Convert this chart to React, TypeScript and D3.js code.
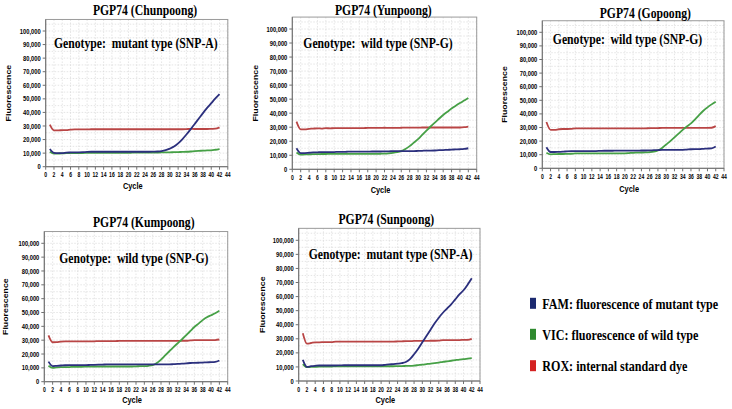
import React, { useEffect, useRef } from "react";
import * as d3 from "d3";

// cycle numbers (x categories)
const CYCLES = Array.from({ length: 42 }, (_, i) => i + 1);
const X_TICKS = d3.range(0, 45, 2);
const Y_TICKS = d3.range(0, 100001, 10000);

// PGP74 (Chunpoong)
const ROX_CHUNPOONG = [
  31000, 26800, 26800, 26900, 27000, 27300, 27500, 27500, 27500, 27500,
  27600, 27600, 27600, 27600, 27600, 27600, 27600, 27600, 27600, 27600,
  27600, 27600, 27600, 27600, 27600, 27600, 27600, 27600, 27600, 27600,
  27600, 27600, 27600, 27700, 27900, 27800, 27800, 27800, 27800, 27900,
  28000, 29000,
];
const FAM_CHUNPOONG = [
  13000, 10200, 10000, 10000, 10400, 10500, 10600, 10600, 10700, 10900,
  11000, 11000, 11000, 11000, 11000, 11000, 11000, 11000, 11000, 11000,
  11000, 11000, 11000, 11000, 11000, 11100, 11200, 11500, 12200, 13300,
  14800, 17200, 20200, 23700, 27500, 31500, 35500, 39500, 43300, 46800,
  50300, 53500,
];
const VIC_CHUNPOONG = [
  11000, 9600, 9700, 9800, 10000, 10000, 10000, 10100, 10100, 10200,
  10200, 10200, 10200, 10200, 10200, 10200, 10200, 10200, 10200, 10200,
  10300, 10300, 10300, 10300, 10300, 10300, 10400, 10500, 10500, 10600,
  10700, 10800, 10900, 11000, 11200, 11500, 11700, 11800, 12000, 12100,
  12500, 13000,
];

// PGP74 (Yunpoong)
const ROX_YUNPOONG = [
  34000, 28500, 28500, 28800, 29000, 29200, 29000, 29300, 29200, 29300,
  29300, 29300, 29400, 29400, 29400, 29400, 29400, 29500, 29500, 29500,
  29500, 29600, 29500, 29500, 29500, 29600, 29700, 29700, 29700, 29700,
  29800, 29800, 29800, 29800, 29800, 29800, 29800, 29800, 29800, 29800,
  30000, 30500,
];
const FAM_YUNPOONG = [
  15000, 11500, 11600, 11800, 12000, 12100, 12200, 12200, 12300, 12300,
  12400, 12400, 12500, 12600, 12600, 12600, 12600, 12600, 12700, 12700,
  12700, 12800, 12800, 12900, 12900, 13000, 13000, 13000, 13000, 13100,
  13200, 13300, 13300, 13400, 13600, 13700, 13900, 14000, 14200, 14300,
  14500, 15000,
];
const VIC_YUNPOONG = [
  12000, 10500, 10600, 10700, 10800, 10800, 10900, 10900, 11000, 11000,
  11000, 11000, 11000, 11000, 11000, 11000, 11000, 11000, 11000, 11000,
  11100, 11200, 11400, 11700, 12200, 13000, 14500, 16500, 19000, 21500,
  24500, 27500, 30500, 33300, 36000, 38700, 41000, 43300, 45300, 47200,
  49000, 50800,
];

// PGP74 (Gopoong)
const ROX_GOPOONG = [
  34000, 28300, 28300, 28700, 28900, 28900, 29000, 29300, 29300, 29300,
  29300, 29300, 29300, 29300, 29300, 29300, 29300, 29300, 29300, 29300,
  29300, 29300, 29400, 29400, 29400, 29500, 29500, 29600, 29700, 29700,
  29700, 29700, 29700, 29700, 29700, 29700, 29700, 29700, 29700, 29700,
  29800, 31000,
];
const FAM_GOPOONG = [
  15500, 12000, 12000, 12100, 12200, 12500, 12600, 12600, 12600, 12600,
  12700, 12700, 12700, 12800, 12900, 12900, 12900, 13000, 13000, 13000,
  13000, 13000, 13000, 13100, 13100, 13200, 13300, 13400, 13500, 13500,
  13500, 13500, 13500, 13600, 13800, 14000, 14100, 14100, 14300, 14500,
  14700, 16000,
];
const VIC_GOPOONG = [
  11500, 10300, 10400, 10500, 10500, 10600, 10700, 10900, 11000, 11000,
  11000, 11000, 11000, 11000, 11000, 11000, 11000, 11000, 11000, 11000,
  11200, 11400, 11500, 11600, 11700, 11900, 12300, 13200, 15000, 17500,
  20000, 22700, 25500, 28300, 30800, 33000, 36000, 39300, 42300, 44800,
  47000, 49000,
];

// PGP74 (Kumpoong)
const ROX_KUMPOONG = [
  33500, 28500, 28600, 29000, 29100, 29100, 29100, 29200, 29200, 29200,
  29200, 29200, 29300, 29300, 29300, 29300, 29300, 29500, 29500, 29500,
  29500, 29500, 29500, 29500, 29500, 29500, 29500, 29500, 29500, 29500,
  29500, 29500, 29600, 29600, 29800, 30000, 30000, 30000, 30000, 30000,
  30100, 30500,
];
const FAM_KUMPOONG = [
  14500, 11300, 11500, 11700, 11900, 12000, 12000, 12000, 12000, 12000,
  12100, 12200, 12300, 12400, 12500, 12500, 12500, 12500, 12500, 12500,
  12500, 12500, 12500, 12500, 12500, 12500, 12500, 12500, 12500, 12500,
  12700, 12900, 13000, 13200, 13500, 13600, 13700, 13800, 14000, 14100,
  14300, 15300,
];
const VIC_KUMPOONG = [
  11500, 10000, 10300, 10500, 10500, 10600, 10700, 10800, 10800, 10900,
  11000, 11000, 11000, 11000, 11000, 11000, 11000, 11000, 11000, 11000,
  11000, 11100, 11200, 11300, 11500, 12000, 13500, 16000, 19000, 22000,
  25000, 27800, 30500, 33500, 36500, 39500, 42000, 44500, 46500, 48000,
  49500, 51200,
];

// PGP74 (Sunpoong)
const ROX_SUNPOONG = [
  34000, 26500, 27000, 27500, 27500, 27600, 27700, 27700, 28000, 28000,
  28000, 28000, 28000, 28000, 28000, 28000, 28000, 28000, 28000, 28000,
  28000, 28000, 28000, 28100, 28200, 28300, 28300, 28500, 28500, 28500,
  28500, 28600, 28600, 28700, 29000, 29000, 29000, 29100, 29100, 29200,
  29300, 30000,
];
const FAM_SUNPOONG = [
  15000, 10000, 10500, 10800, 11000, 11000, 11000, 11000, 11000, 11100,
  11200, 11200, 11200, 11200, 11200, 11200, 11200, 11200, 11200, 11200,
  11500, 11800, 12000, 12300, 12700, 13500, 15500, 19000, 23000, 27500,
  32000, 36500, 41000, 45000, 48500, 51500, 54500, 58000, 61500, 64500,
  68500, 73000,
];
const VIC_SUNPOONG = [
  12000, 9800, 10000, 10100, 10200, 10200, 10300, 10300, 10400, 10400,
  10500, 10500, 10500, 10500, 10500, 10500, 10500, 10500, 10500, 10500,
  10500, 10500, 10500, 10600, 10600, 10700, 10800, 11000, 11300, 11600,
  12000, 12400, 12700, 13100, 13600, 14000, 14400, 14800, 15200, 15500,
  15900, 16300,
];

const PANELS = [
  { name: "PGP74 (Chunpoong)", genotype: "Genotype:  mutant type (SNP-A)", rox: ROX_CHUNPOONG, fam: FAM_CHUNPOONG, vic: VIC_CHUNPOONG },
  { name: "PGP74 (Yunpoong)", genotype: "Genotype:  wild type (SNP-G)", rox: ROX_YUNPOONG, fam: FAM_YUNPOONG, vic: VIC_YUNPOONG },
  { name: "PGP74 (Gopoong)", genotype: "Genotype:  wild type (SNP-G)", rox: ROX_GOPOONG, fam: FAM_GOPOONG, vic: VIC_GOPOONG },
  { name: "PGP74 (Kumpoong)", genotype: "Genotype:  wild type (SNP-G)", rox: ROX_KUMPOONG, fam: FAM_KUMPOONG, vic: VIC_KUMPOONG },
  { name: "PGP74 (Sunpoong)", genotype: "Genotype:  mutant type (SNP-A)", rox: ROX_SUNPOONG, fam: FAM_SUNPOONG, vic: VIC_SUNPOONG },
];

const LEGEND_LABELS = [
  "FAM: fluorescence of mutant type",
  "VIC: fluorescence of wild type",
  "ROX: internal standard dye",
];

// where each panel sits in the picture (pixel frame, not data)
const LAYOUT = [
  { x0: 45.7, x44: 227.8, y0: 166.7, y100: 31, titleX: 145, titleY: 10, genoX: 135.8, genoY: 42.7, fluoX: 9, cycleY: 186 },
  { x0: 292.3, x44: 476.7, y0: 169.3, y100: 29, titleX: 383.3, titleY: 10, genoX: 378, genoY: 42.7, fluoX: 255.7, cycleY: 190 },
  { x0: 542.3, x44: 724, y0: 168.3, y100: 32.3, titleX: 645.3, titleY: 12.7, genoX: 627.5, genoY: 38.3, fluoX: 504.3, cycleY: 188.3 },
  { x0: 44.3, x44: 227.7, y0: 381.7, y100: 243.3, titleX: 143.8, titleY: 221.7, genoX: 133.8, genoY: 257.3, fluoX: 6, cycleY: 400 },
  { x0: 298.7, x44: 480, y0: 381, y100: 240.3, titleX: 386.3, titleY: 219, genoX: 390.5, genoY: 253.3, fluoX: 262.3, cycleY: 400 },
];

const LINE_COLORS = { fam: "#2b2f7d", vic: "#46a046", rox: "#b94545" };
const LEGEND_COLORS = ["#1c2a70", "#2f8a2f", "#d42222"];
const SQUISH = 0.78; // the source figure is horizontally compressed
const SANS = "'Liberation Sans', Arial, sans-serif";
const SERIF = "'Liberation Serif', 'Times New Roman', serif";

const App = () => {
  const svgRef = useRef<SVGSVGElement>(null);

  useEffect(() => {
    const svg = d3.select(svgRef.current);
    svg.selectAll("*").remove();

    const addText = (g, x, y, txt, size, family, anchor = "middle") =>
      g
        .append("text")
        .attr("transform", `translate(${x},${y}) scale(${SQUISH},1)`)
        .attr("text-anchor", anchor)
        .attr("dy", "0.35em")
        .style("font-family", family)
        .style("font-weight", "bold")
        .style("font-size", `${size}px`)
        .style("white-space", "pre")
        .attr("fill", "#000")
        .text(txt);

    PANELS.forEach((p, idx) => {
      const L = LAYOUT[idx];
      const g = svg.append("g");
      const x = d3.scaleLinear().domain([0, 44]).range([L.x0, L.x44]);
      const y = d3.scaleLinear().domain([0, 100000]).range([L.y0, L.y100]);
      const top = y(108500);

      // grid
      g.selectAll(".vg")
        .data(X_TICKS.slice(1))
        .enter()
        .append("line")
        .attr("x1", (d) => x(d))
        .attr("x2", (d) => x(d))
        .attr("y1", top)
        .attr("y2", L.y0)
        .attr("stroke", "#d4d4d4")
        .attr("stroke-width", 0.6)
        .attr("stroke-dasharray", "1.5,1.5");
      g.selectAll(".hg")
        .data(d3.range(5000, 108000, 5000))
        .enter()
        .append("line")
        .attr("x1", L.x0)
        .attr("x2", L.x44)
        .attr("y1", (d) => y(d))
        .attr("y2", (d) => y(d))
        .attr("stroke", "#d4d4d4")
        .attr("stroke-width", 0.6)
        .attr("stroke-dasharray", "1.5,1.5");

      // frame
      g.append("rect")
        .attr("x", L.x0)
        .attr("y", top)
        .attr("width", L.x44 - L.x0)
        .attr("height", L.y0 - top)
        .attr("fill", "none")
        .attr("stroke", "#9a9a9a")
        .attr("stroke-width", 1);
      g.append("line")
        .attr("x1", L.x0)
        .attr("x2", L.x0)
        .attr("y1", top)
        .attr("y2", L.y0)
        .attr("stroke", "#707070");
      g.append("line")
        .attr("x1", L.x0)
        .attr("x2", L.x44)
        .attr("y1", L.y0)
        .attr("y2", L.y0)
        .attr("stroke", "#707070");

      // ticks + labels
      Y_TICKS.forEach((t) => {
        g.append("line")
          .attr("x1", L.x0 - 3)
          .attr("x2", L.x0)
          .attr("y1", y(t))
          .attr("y2", y(t))
          .attr("stroke", "#707070");
        addText(g, L.x0 - 5, y(t), d3.format(",")(t), 7.4, SANS, "end");
      });
      X_TICKS.forEach((t) => {
        g.append("line")
          .attr("x1", x(t))
          .attr("x2", x(t))
          .attr("y1", L.y0)
          .attr("y2", L.y0 + 3)
          .attr("stroke", "#707070");
        addText(g, x(t), L.y0 + 8.5, String(t), 6.5, SANS);
      });

      // axis titles
      g.append("text")
        .attr("transform", `translate(${L.fluoX},${(top + L.y0) / 2}) rotate(-90) scale(1,${SQUISH})`)
        .attr("text-anchor", "middle")
        .attr("dy", "0.35em")
        .style("font-family", SANS)
        .style("font-weight", "bold")
        .style("font-size", "8.8px")
        .text("Fluorescence");
      addText(g, (L.x0 + L.x44) / 2 - 4, L.cycleY, "Cycle", 9.5, SANS);

      // curves
      const series = [
        { key: "rox", values: p.rox },
        { key: "vic", values: p.vic },
        { key: "fam", values: p.fam },
      ];
      series.forEach((s) => {
        const line = d3
          .line<number>()
          .x((_, i) => x(CYCLES[i]))
          .y((d) => y(d))
          .curve(d3.curveMonotoneX);
        g.append("path")
          .attr("d", line(s.values))
          .attr("fill", "none")
          .attr("stroke", LINE_COLORS[s.key])
          .attr("stroke-width", 1.8);
      });

      addText(g, L.titleX, L.titleY, p.name, 15, SERIF);
      addText(g, L.genoX, L.genoY, p.genotype, 15, SERIF);
    });

    // legend
    const lg = svg.append("g");
    const legendY = [303.3, 334.3, 365.7];
    LEGEND_LABELS.forEach((lab, i) => {
      lg.append("rect")
        .attr("x", 530)
        .attr("y", legendY[i] - 5.5)
        .attr("width", 6)
        .attr("height", 11)
        .attr("fill", LEGEND_COLORS[i]);
      addText(lg, 542.3, legendY[i], lab, 15.5, SERIF, "start");
    });
  }, []);

  return (
    <div style={{ position: "absolute", left: 0, top: 0, background: "#fff" }}>
      <svg ref={svgRef} width={732} height={409} style={{ display: "block" }}></svg>
    </div>
  );
};

export default App;
